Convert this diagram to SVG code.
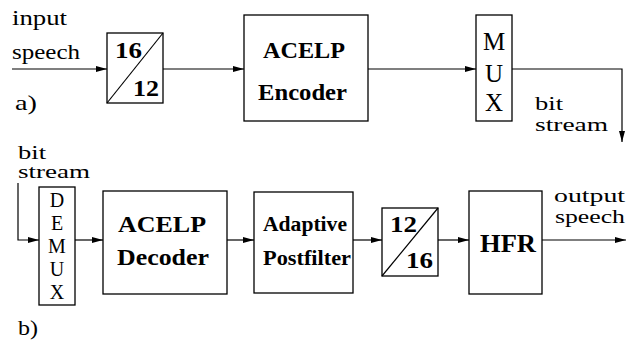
<svg xmlns="http://www.w3.org/2000/svg" width="627" height="342" viewBox="0 0 627 342">
<defs>
<marker id="ah" markerWidth="11" markerHeight="7" refX="11" refY="3.5" orient="auto" markerUnits="userSpaceOnUse">
<path d="M0,0.5 L11,3.5 L0,6.5 Z" fill="#000"/>
</marker>
</defs>
<style>
.box{fill:#fff;stroke:#000;stroke-width:1.3}
.ln{fill:none;stroke:#000;stroke-width:1.2}
text{fill:#000;font-family:'Liberation Serif','Times New Roman',Times,'DejaVu Serif',serif}
.lbl{font-size:21px}
.sm{font-size:19px}
.b{font-weight:bold}
.mx{font-size:25px;text-anchor:middle}
.dx{font-size:20px;text-anchor:middle}
</style>
<rect width="627" height="342" fill="#fff"/>
<g id="connectors">
<path class="ln" d="M12,69 H107" marker-end="url(#ah)"/>
<path class="ln" d="M163,69 H244" marker-end="url(#ah)"/>
<path class="ln" d="M368,69 H476" marker-end="url(#ah)"/>
<path class="ln" d="M512,69 H622 V142" marker-end="url(#ah)"/>
<path class="ln" d="M18,183 V240 H39" marker-end="url(#ah)"/>
<path class="ln" d="M75,240 H103" marker-end="url(#ah)"/>
<path class="ln" d="M227,240 H254" marker-end="url(#ah)"/>
<path class="ln" d="M353,240 H382" marker-end="url(#ah)"/>
<path class="ln" d="M438,240 H469" marker-end="url(#ah)"/>
<path class="ln" d="M542,240 H626" marker-end="url(#ah)"/>
</g>
<g id="labels">
<text class="lbl" x="12" y="25" textLength="55" lengthAdjust="spacingAndGlyphs">input</text>
<text class="lbl" x="12" y="59" textLength="68" lengthAdjust="spacingAndGlyphs">speech</text>
<text class="lbl" x="15" y="110" textLength="22" lengthAdjust="spacingAndGlyphs">a)</text>
<text class="sm" x="535" y="110" textLength="28" lengthAdjust="spacingAndGlyphs">bit</text>
<text class="sm" x="535" y="131" textLength="73" lengthAdjust="spacingAndGlyphs">stream</text>
<text class="sm" x="18" y="159" textLength="28" lengthAdjust="spacingAndGlyphs">bit</text>
<text class="sm" x="18" y="178" textLength="72" lengthAdjust="spacingAndGlyphs">stream</text>
<text class="sm" x="554" y="202" textLength="71" lengthAdjust="spacingAndGlyphs">output</text>
<text class="sm" x="555" y="223" textLength="70" lengthAdjust="spacingAndGlyphs">speech</text>
<text class="lbl" x="18" y="335" textLength="20" lengthAdjust="spacingAndGlyphs">b)</text>
</g>
<g id="src1612">
<rect class="box" x="107" y="33" width="56" height="70"/>
<line class="ln" x1="107" y1="103" x2="163" y2="33"/>
<text class="b" x="115" y="58" font-size="24" textLength="27" lengthAdjust="spacingAndGlyphs">16</text>
<text class="b" x="133" y="96" font-size="24" textLength="26" lengthAdjust="spacingAndGlyphs">12</text>
</g>
<g id="encoder">
<rect class="box" x="244" y="15" width="124" height="106"/>
<text class="b" x="263" y="58" font-size="23" textLength="82" lengthAdjust="spacingAndGlyphs">ACELP</text>
<text class="b" x="258" y="100" font-size="23" textLength="89" lengthAdjust="spacingAndGlyphs">Encoder</text>
</g>
<g id="mux">
<rect class="box" x="476" y="15" width="36" height="106"/>
<text class="mx" x="494" y="50">M</text>
<text class="mx" x="494" y="82">U</text>
<text class="mx" x="494" y="111">X</text>
</g>
<g id="demux">
<rect class="box" x="39" y="187" width="36" height="118"/>
<text class="dx" x="57" y="207">D</text>
<text class="dx" x="57" y="230">E</text>
<text class="dx" x="57" y="253">M</text>
<text class="dx" x="57" y="276">U</text>
<text class="dx" x="57" y="299">X</text>
</g>
<g id="decoder">
<rect class="box" x="103" y="191" width="124" height="103"/>
<text class="b" x="118" y="232" font-size="24" textLength="88" lengthAdjust="spacingAndGlyphs">ACELP</text>
<text class="b" x="117" y="265" font-size="24" textLength="92" lengthAdjust="spacingAndGlyphs">Decoder</text>
</g>
<g id="postfilter">
<rect class="box" x="254" y="192" width="99" height="101"/>
<text class="b" x="263" y="231" font-size="20" textLength="84" lengthAdjust="spacingAndGlyphs">Adaptive</text>
<text class="b" x="263" y="265" font-size="20" textLength="88" lengthAdjust="spacingAndGlyphs">Postfilter</text>
</g>
<g id="src1216">
<rect class="box" x="382" y="208" width="56" height="68"/>
<line class="ln" x1="382" y1="276" x2="438" y2="208"/>
<text class="b" x="390" y="232" font-size="24" textLength="27" lengthAdjust="spacingAndGlyphs">12</text>
<text class="b" x="406" y="268" font-size="24" textLength="27" lengthAdjust="spacingAndGlyphs">16</text>
</g>
<g id="hfr">
<rect class="box" x="469" y="191" width="73" height="103"/>
<text class="b" x="480" y="252" font-size="25" textLength="56" lengthAdjust="spacingAndGlyphs">HFR</text>
</g>
</svg>
